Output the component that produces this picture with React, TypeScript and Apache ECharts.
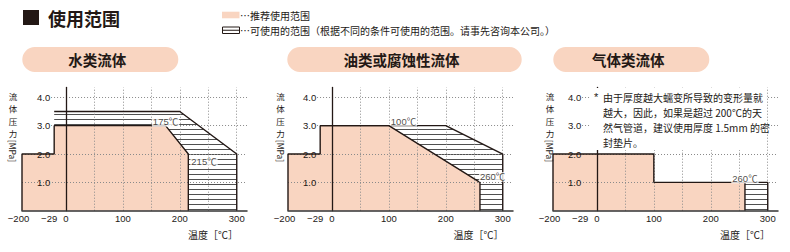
import React, { useEffect, useRef } from 'react';
import * as echarts from 'echarts';

// ---------- data ----------
const chartTitles = ['水类流体', '油类或腐蚀性流体', '气体类流体'];
const xTickValues = [-200, -29, 0, 100, 200, 300];
const xTickLabels = ['−200', '−29', '0', '100', '200', '300'];
const yTickValues = [1, 2, 3, 4];
const yTickLabels = ['1.0', '2.0', '3.0', '4.0'];
const verticalGridTemps = [0, 50, 100, 150, 200, 250, 300];
const horizontalGridPressures = [1, 2, 3, 4];

// [temperature °C, pressure MPa]
const waterRecommended = [[-200, 0], [-200, 2], [-29, 2], [-29, 3], [175, 3], [215, 2], [215, 0]];
const waterUsable = [[-29, 3.5], [200, 3.5], [300, 2], [300, 0]];
const oilRecommended = [[-200, 0], [-200, 2], [-29, 2], [-29, 3], [100, 3], [260, 1], [260, 0]];
const oilUsable = [[-29, 3], [200, 3], [300, 2], [300, 0]];
const gasRecommended = [[-200, 0], [-200, 2], [100, 2], [100, 1], [260, 1], [260, 0]];
const gasUsable = [[260, 1], [300, 1], [300, 0]];

const waterMarks = [[175, 3], [215, 2]];
const oilMarks = [[100, 3], [260, 1]];
const gasMarks = [[260, 1]];

const legendTexts = ['…推荐使用范围', '…可使用的范围（根据不同的条件可使用的范围。请事先咨询本公司。）'];
const noteLines = ['由于厚度越大蠕变所导致的变形量就', '越大，因此，如果是超过 200℃的天', '然气管道，建议使用厚度 1.5mm 的密', '封垫片。'];
const yTitleChars = ['流', '体', '压', '力'];
const yTitleUnit = '[MPa]';
const xTitle = '温度［℃］';

// ---------- styles / layout ----------
const INK = '#231815';
const PINK = '#f9d5c1';
const GRID_COLOR = '#8a8a8a';
const CJK = "'Noto Sans CJK SC', sans-serif";
const NUM = "'Liberation Sans Narrow', 'Arial Narrow', 'Liberation Sans', 'Noto Sans CJK SC', sans-serif";

const DISP_MIN = -77;
const DISP_MAX = 318;
const Y_MAX = 4.35;
const gridLefts = [22, 288, 553];
const GRID_W = 225;
const GRID_TOP = 87.4;
const GRID_H = 123.3;

// broken temperature axis: -200..-29 and -29..0 are compressed
function toDisp(t: number): number {
  if (t >= 0) return t;
  if (t >= -29) return (t * 20.5) / 29;
  return -20.5 + ((t + 29) * (77 - 20.5)) / 171;
}

const datasets = [
  { rec: waterRecommended, use: waterUsable, marks: waterMarks },
  { rec: oilRecommended, use: oilUsable, marks: oilMarks },
  { rec: gasRecommended, use: gasUsable, marks: gasMarks },
];

const markLabelStyles = [
  [
    { position: 'top', distance: 0, offset: [0, 1] },
    { position: 'right', distance: 2, offset: [0, 7] },
  ],
  [
    { position: 'right', distance: 1, offset: [0, -4.5] },
    { position: 'right', distance: -1, offset: [0, -5.5] },
  ],
  [{ position: 'top', distance: 0, offset: [0, 1] }],
];

const pills = [
  { x: 22.3, w: 156 },
  { x: 287.3, w: 234.4 },
  { x: 553.3, w: 156 },
];
const yTitleX = [13, 280.5, 550];
const xTitleRight = [238, 503.5, 770];

export default function App() {
  const ref = useRef<HTMLDivElement>(null);

  useEffect(() => {
    if (!ref.current) return;
    const chart = echarts.init(ref.current, null, { renderer: 'svg' });

    const cv = document.createElement('canvas');
    cv.width = 4;
    cv.height = 5;
    const ctx = cv.getContext('2d')!;
    ctx.fillStyle = '#ffffff';
    ctx.fillRect(0, 0, 4, 5);
    ctx.fillStyle = '#505050';
    ctx.fillRect(0, 4, 4, 1);
    const hatch = { image: cv, repeat: 'repeat' };

    const axisOffset = -((toDisp(-29) - DISP_MIN) / (DISP_MAX - DISP_MIN)) * GRID_W;

    const grids = gridLefts.map((left) => ({ left, top: GRID_TOP, width: GRID_W, height: GRID_H }));

    const xAxes = gridLefts.map((_, i) => ({
      type: 'value',
      gridIndex: i,
      min: DISP_MIN,
      max: DISP_MAX,
      z: 8,
      axisLine: { onZero: false, lineStyle: { color: '#333', width: 1.5 } },
      axisTick: { show: false },
      splitLine: { show: false },
      axisLabel: {
        customValues: xTickValues.map(toDisp),
        margin: 3,
        formatter: (v: number) => {
          const k = xTickValues.findIndex((t) => Math.abs(toDisp(t) - v) < 1e-6);
          if (k < 0) return '';
          const pad = xTickValues[k] === -200 ? 'a' : xTickValues[k] === -29 ? 'b' : 'c';
          return `{${pad}|${xTickLabels[k]}}`;
        },
        rich: {
          a: { fontSize: 9.5, fontFamily: NUM, color: INK, padding: [0, 7, 0, 0] },
          b: { fontSize: 9.5, fontFamily: NUM, color: INK, padding: [0, 10, 0, 0] },
          c: { fontSize: 9.5, fontFamily: NUM, color: INK },
        },
      },
    }));

    const yAxes = gridLefts.map((_, i) => ({
      type: 'value',
      gridIndex: i,
      min: 0,
      max: Y_MAX,
      position: 'left',
      offset: axisOffset,
      z: 8,
      axisLine: { show: true, lineStyle: { color: INK, width: 1.3 } },
      axisTick: { show: false },
      splitLine: { show: false },
      axisLabel: {
        customValues: yTickValues,
        margin: 4,
        fontSize: 9.5,
        fontFamily: NUM,
        color: INK,
        formatter: (v: number) => {
          const k = yTickValues.findIndex((p) => Math.abs(p - v) < 1e-6);
          return k < 0 ? '' : yTickLabels[k];
        },
      },
    }));

    const conv = (arr: number[][]) => arr.map(([t, p]) => [toDisp(t), p]);
    const series: any[] = [];
    datasets.forEach((d, i) => {
      const common = { type: 'line', xAxisIndex: i, yAxisIndex: i, symbol: 'none', silent: true, animation: false };
      series.push({ ...common, data: conv(d.use), z: 1, lineStyle: { width: 0 }, areaStyle: { color: hatch, opacity: 1 } });
      series.push({ ...common, data: conv(d.rec), z: 2, lineStyle: { width: 0 }, areaStyle: { color: PINK, opacity: 1 } });
      series.push({
        ...common,
        data: [[toDisp(0), 0]],
        z: 3,
        lineStyle: { width: 0 },
        markLine: {
          silent: true,
          z: 3,
          symbol: ['none', 'none'],
          label: { show: false },
          lineStyle: { type: [1, 2], color: GRID_COLOR, width: 1 },
          data: [
            ...verticalGridTemps.map((t) => ({ xAxis: toDisp(t) })),
            ...horizontalGridPressures.map((p) => [
              { coord: [p >= 3 ? -26 : DISP_MIN, p] },
              { coord: [DISP_MAX, p] },
            ]),
          ],
        },
      });
      series.push({ ...common, data: conv(d.use), z: 6, lineStyle: { color: INK, width: 1.4 } });
      series.push({ ...common, data: conv(d.rec), z: 6, lineStyle: { color: INK, width: 1.4 } });
      series.push({
        type: 'scatter',
        xAxisIndex: i,
        yAxisIndex: i,
        symbolSize: 0,
        silent: true,
        z: 7,
        data: d.marks.map(([t, p], k) => ({
          name: String(t),
          value: [toDisp(t), p],
          label: {
            show: true,
            formatter: '{b}℃',
            fontSize: 9.5,
            fontFamily: NUM,
            color: INK,
            backgroundColor: '#ffffff',
            padding: [0, 1],
            ...markLabelStyles[i][k],
          },
        })),
      });
    });

    const graphic: any[] = [
      { type: 'rect', z: 100, shape: { x: 23, y: 10, width: 16, height: 15 }, style: { fill: INK } },
      {
        type: 'text', z: 100, x: 48, y: 17.5,
        style: { text: '使用范围', fontSize: 18, fontWeight: 'bold', fontFamily: CJK, fill: INK, verticalAlign: 'middle' },
      },
      { type: 'rect', z: 100, shape: { x: 222, y: 11.7, width: 17.5, height: 6.6 }, style: { fill: PINK } },
      {
        type: 'text', z: 100, x: 240, y: 15,
        style: { text: legendTexts[0], fontSize: 10, fontFamily: CJK, fill: INK, verticalAlign: 'middle' },
      },
      { type: 'rect', z: 100, shape: { x: 222.5, y: 27, width: 17, height: 6.5 }, style: { fill: '#fff', stroke: INK, lineWidth: 1 } },
      { type: 'line', z: 100, shape: { x1: 222.5, y1: 30.25, x2: 239.5, y2: 30.25 }, style: { stroke: INK, lineWidth: 1 } },
      {
        type: 'text', z: 100, x: 240, y: 30.5,
        style: { text: legendTexts[1], fontSize: 10, fontFamily: CJK, fill: INK, verticalAlign: 'middle' },
      },
      // note box in gas chart
      { type: 'rect', z: 50, shape: { x: 590, y: 88, width: 176, height: 62 }, style: { fill: '#fff' } },
      {
        type: 'text', z: 51, x: 594, y: 97,
        style: { text: '*', fontSize: 11, fontFamily: NUM, fill: INK, verticalAlign: 'middle' },
      },
      {
        type: 'text', z: 51, x: 603, y: 89.5,
        style: { text: noteLines.join('\n'), fontSize: 10, lineHeight: 15, fontFamily: CJK, fill: INK, verticalAlign: 'top' },
      },
    ];

    pills.forEach((p, i) => {
      graphic.push({
        type: 'rect', z: 100,
        shape: { x: p.x, y: 47, width: p.w, height: 25, r: 12.5 },
        style: { fill: PINK },
      });
      graphic.push({
        type: 'text', z: 101, x: p.x + p.w / 2 - 3, y: 59.5,
        style: {
          text: chartTitles[i], fontSize: 14.5, fontWeight: 'bold', fontFamily: CJK, fill: INK,
          align: 'center', verticalAlign: 'middle',
        },
      });
      yTitleChars.forEach((ch, k) => {
        graphic.push({
          type: 'text', z: 100, x: yTitleX[i], y: 96 + k * 12.3,
          style: {
            text: ch, fontSize: 8.5, fontFamily: CJK, fill: INK,
            align: 'center', verticalAlign: 'middle',
          },
        });
      });
      graphic.push({
        type: 'text', z: 100, x: yTitleX[i], y: 151, rotation: -Math.PI / 2,
        style: { text: yTitleUnit, fontSize: 8.5, fontFamily: CJK, fill: INK, align: 'center', verticalAlign: 'middle' },
      });
      graphic.push({
        type: 'text', z: 100, x: xTitleRight[i], y: 234,
        style: { text: xTitle, fontSize: 10, fontFamily: CJK, fill: INK, align: 'right', verticalAlign: 'middle' },
      });
    });

    chart.setOption({
      animation: false,
      grid: grids,
      xAxis: xAxes,
      yAxis: yAxes,
      series,
      graphic,
    });

    return () => chart.dispose();
  }, []);

  return (
    <div
      ref={ref}
      style={{ position: 'absolute', left: 0, top: 0, width: 790, height: 252, background: '#fff' }}
    />
  );
}
